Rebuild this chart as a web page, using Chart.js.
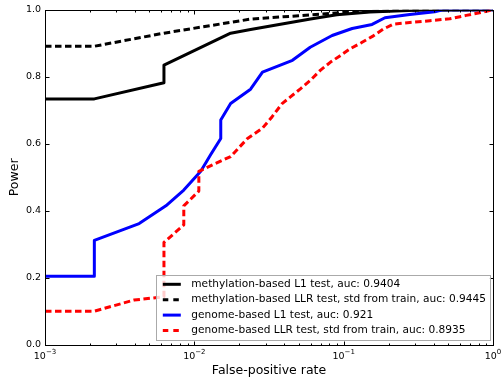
<!DOCTYPE html>
<html>
<head>
<meta charset="utf-8">
<script src="https://cdn.jsdelivr.net/npm/chart.js@4.4.0/dist/chart.umd.min.js"></script>
<style>
  html, body { margin: 0; padding: 0; background: #fff; }
</style>
</head>
<body>
<canvas id="roc" width="503" height="381"></canvas>
<script>
// ROC curves: false-positive rate (x) vs power (y)
const seriesLabels = [
    'methylation-based L1 test, auc: 0.9404',
    'methylation-based LLR test, std from train, auc: 0.9445',
    'genome-based L1 test, auc: 0.921',
    'genome-based LLR test, std from train, auc: 0.8935'
];

const methL1Fpr   = [0.001, 0.00214, 0.00626, 0.00626, 0.0175, 0.0238, 0.06, 0.09, 0.15, 0.3, 1];
const methL1Power = [0.734, 0.734, 0.782, 0.835, 0.930, 0.941, 0.972, 0.985, 0.993, 0.998, 1.0];

const methLlrFpr   = [0.001, 0.00214, 0.00626, 0.0238, 0.05, 0.1, 0.2, 0.4, 1];
const methLlrPower = [0.891, 0.891, 0.930, 0.972, 0.982, 0.992, 0.997, 1.0, 1.0];

const genL1Fpr   = [0.001, 0.00214, 0.00214, 0.00427, 0.00645, 0.0085, 0.01104, 0.01288, 0.01503, 0.01503,
                    0.0175, 0.0238, 0.0286, 0.0454, 0.0597, 0.0837, 0.114, 0.155, 0.189, 0.277, 0.407, 0.46, 1];
const genL1Power = [0.205, 0.205, 0.312, 0.362, 0.415, 0.462, 0.518, 0.568, 0.616, 0.671,
                    0.720, 0.763, 0.814, 0.849, 0.888, 0.923, 0.944, 0.956, 0.976, 0.986, 0.994, 1.0, 1.0];

const genLlrFpr   = [0.001, 0.00214, 0.00395, 0.00626, 0.00626, 0.0085, 0.0085, 0.01072, 0.01072, 0.01349,
                     0.0175, 0.0227, 0.0285, 0.0332, 0.0387, 0.044, 0.0513, 0.0597, 0.0697, 0.0813,
                     0.0948, 0.110, 0.132, 0.158, 0.184, 0.215, 0.277, 0.378, 0.513, 0.662, 0.855, 1];
const genLlrPower = [0.101, 0.101, 0.134, 0.144, 0.306, 0.358, 0.415, 0.459, 0.518, 0.539,
                     0.562, 0.616, 0.646, 0.681, 0.720, 0.740, 0.764, 0.789, 0.819, 0.843,
                     0.863, 0.883, 0.902, 0.922, 0.942, 0.957, 0.962, 0.967, 0.973, 0.983, 0.993, 1.0];

// tick labels
const xTickValues = [0.001, 0.01, 0.1, 1];
const xTickExponents = ['\u22123', '\u22122', '\u22121', '0'];
const yTickValues = [0, 0.2, 0.4, 0.6, 0.8, 1.0];

const FONT = 'DejaVu Sans';
const DASH = [6.5, 3.5];

const toPoints = function(xs, ys) {
    return xs.map((x, i) => ({ x: x, y: ys[i] }));
};

// matplotlib-ish frame: full box, inward ticks, 10^n labels and the legend
const frameAndLegend = {
    id: 'frameAndLegend',
    afterDraw(chart) {
        const ctx = chart.ctx;
        const area = chart.chartArea;
        const xs = chart.scales.x;
        const ys = chart.scales.y;
        const L = Math.round(area.left) + 0.5, R = Math.round(area.right) + 0.5;
        const T = Math.round(area.top) + 0.5, B = Math.round(area.bottom) + 0.5;

        ctx.save();
        ctx.strokeStyle = '#000';
        ctx.lineWidth = 1;
        ctx.strokeRect(L, T, R - L, B - T);

        ctx.beginPath();
        // major x ticks, bottom and top
        xTickValues.forEach(v => {
            const px = Math.round(xs.getPixelForValue(v)) + 0.5;
            ctx.moveTo(px, B); ctx.lineTo(px, B - 4);
            ctx.moveTo(px, T); ctx.lineTo(px, T + 4);
        });
        // minor x ticks
        for (let d = 0; d < xTickValues.length - 1; d++) {
            for (let m = 2; m <= 9; m++) {
                const px = Math.round(xs.getPixelForValue(m * xTickValues[d])) + 0.5;
                ctx.moveTo(px, B); ctx.lineTo(px, B - 2);
                ctx.moveTo(px, T); ctx.lineTo(px, T + 2);
            }
        }
        // y ticks, left and right
        yTickValues.forEach(v => {
            const py = Math.round(ys.getPixelForValue(v)) + 0.5;
            ctx.moveTo(L, py); ctx.lineTo(L + 4, py);
            ctx.moveTo(R, py); ctx.lineTo(R - 4, py);
        });
        ctx.stroke();

        // x tick labels with superscript exponent
        ctx.fillStyle = '#000';
        ctx.textBaseline = 'alphabetic';
        ctx.textAlign = 'left';
        xTickValues.forEach((v, i) => {
            const px = xs.getPixelForValue(v);
            ctx.font = '9.5px "' + FONT + '"';
            const baseW = ctx.measureText('10').width;
            ctx.font = '7px "' + FONT + '"';
            const supW = ctx.measureText(xTickExponents[i]).width;
            const x0 = px - (baseW + supW) / 2;
            ctx.font = '9.5px "' + FONT + '"';
            ctx.fillText('10', x0, area.bottom + 14);
            ctx.font = '7px "' + FONT + '"';
            ctx.fillText(xTickExponents[i], x0 + baseW, area.bottom + 9);
        });

        // legend box in the lower right of the plot
        ctx.font = '10.6px "' + FONT + '"';
        const sets = chart.data.datasets;
        const textW = Math.max(...sets.map(ds => ctx.measureText(ds.label).width));
        const boxR = area.right - 3, boxB = area.bottom - 5;
        const boxW = 6.5 + 18 + 10.5 + textW + 4;
        const rowH = 15.4;
        const boxH = 9 + rowH * (sets.length - 1) + 9.5;
        const boxL = boxR - boxW, boxT = boxB - boxH;

        ctx.fillStyle = 'rgba(255,255,255,0.8)';
        ctx.fillRect(boxL, boxT, boxW, boxH);
        ctx.strokeStyle = '#aaaaaa';
        ctx.lineWidth = 1;
        ctx.strokeRect(Math.round(boxL) + 0.5, Math.round(boxT) + 0.5, Math.round(boxW), Math.round(boxH));

        sets.forEach((ds, i) => {
            const y = boxT + 9 + i * rowH;
            ctx.beginPath();
            ctx.strokeStyle = ds.borderColor;
            ctx.lineWidth = ds.borderWidth;
            ctx.setLineDash(ds.borderDash ? [5.5, 5] : []);
            ctx.moveTo(boxL + 6.5, y);
            ctx.lineTo(boxL + 6.5 + 18, y);
            ctx.stroke();
            ctx.setLineDash([]);
            ctx.fillStyle = '#000';
            ctx.textBaseline = 'middle';
            ctx.fillText(ds.label, boxL + 6.5 + 18 + 10.5, y);
        });
        ctx.restore();
    }
};

const ctx = document.getElementById('roc').getContext('2d');
const rocChart = new Chart(ctx, {
    type: 'line',
    data: {
        datasets: [
            { label: seriesLabels[0], data: toPoints(methL1Fpr, methL1Power), borderColor: '#000000', borderWidth: 3, order: 4 },
            { label: seriesLabels[1], data: toPoints(methLlrFpr, methLlrPower), borderColor: '#000000', borderWidth: 3, borderDash: DASH, order: 3 },
            { label: seriesLabels[2], data: toPoints(genL1Fpr, genL1Power), borderColor: '#0000ff', borderWidth: 3, order: 2 },
            { label: seriesLabels[3], data: toPoints(genLlrFpr, genLlrPower), borderColor: '#ff0000', borderWidth: 3, borderDash: DASH, order: 1 }
        ]
    },
    options: {
        responsive: false,
        animation: false,
        layout: { padding: { top: 7, right: 10, left: 0, bottom: 0 } },
        elements: {
            line: { tension: 0, fill: false, borderCapStyle: 'butt', borderJoinStyle: 'round' },
            point: { radius: 0, hoverRadius: 0 }
        },
        plugins: {
            legend: { display: false },
            tooltip: { enabled: false }
        },
        scales: {
            x: {
                type: 'logarithmic',
                min: 0.001,
                max: 1,
                grid: { display: false, drawTicks: false },
                border: { display: false },
                ticks: { display: false },
                title: {
                    display: true,
                    text: 'False-positive rate',
                    color: '#000',
                    font: { family: FONT, size: 12.5 },
                    padding: { top: 0, bottom: 2.5 }
                },
                afterFit: function(scale) { scale.height = 36; }
            },
            y: {
                type: 'linear',
                min: 0,
                max: 1,
                grid: { display: false, drawTicks: false },
                border: { display: false },
                afterBuildTicks: function(scale) {
                    scale.ticks = yTickValues.map(v => ({ value: v }));
                },
                ticks: {
                    color: '#000',
                    font: { family: FONT, size: 9.5 },
                    padding: 4,
                    callback: function(value) { return Number(value).toFixed(1); }
                },
                title: {
                    display: true,
                    text: 'Power',
                    color: '#000',
                    font: { family: FONT, size: 12.5 },
                    padding: { top: 7.5, bottom: 0 }
                },
                afterFit: function(scale) { scale.width = 45; }
            }
        }
    },
    plugins: [frameAndLegend]
});
</script>
</body>
</html>
